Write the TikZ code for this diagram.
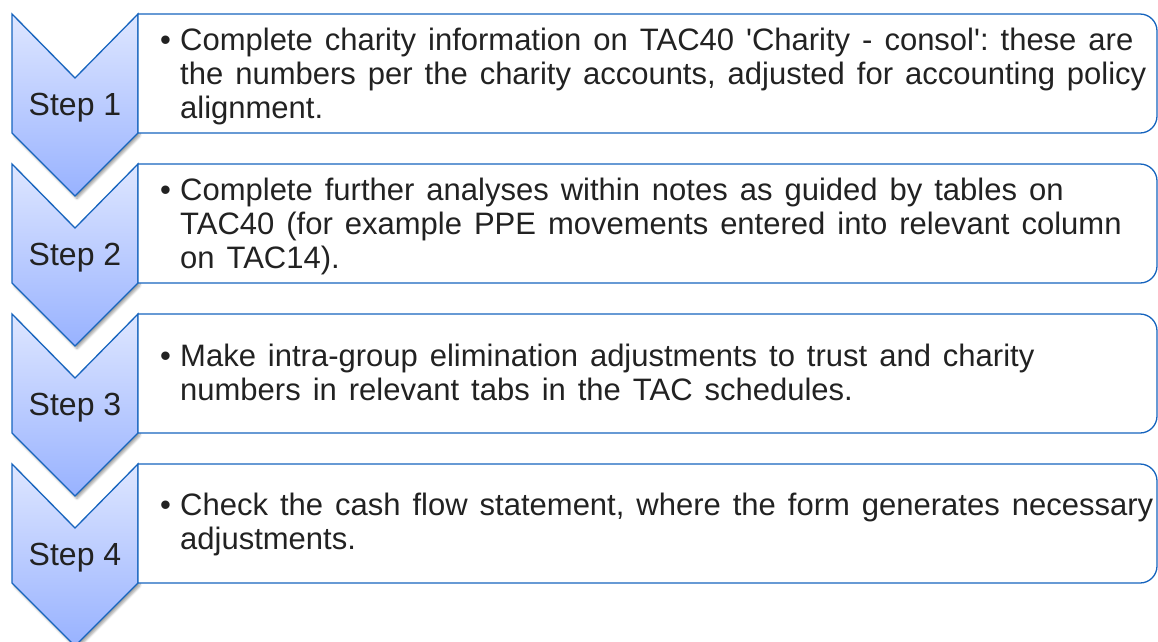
\documentclass[tikz,border=0pt]{standalone}
\usepackage{fontspec}
\setmainfont{Liberation Sans}
\usetikzlibrary{shadows.blur}
\definecolor{edge}{RGB}{22,100,190}
\definecolor{chtop}{RGB}{222,230,255}
\definecolor{chbot}{RGB}{152,178,255}
\definecolor{txt}{RGB}{34,34,34}
\tikzset{
  chev/.style={draw=edge, line width=1.3pt, line join=miter, top color=chtop, bottom color=chbot,
    blur shadow={shadow xshift=2pt, shadow yshift=-3pt, shadow blur steps=6, shadow blur extra rounding=1pt, shadow opacity=35}},
  tbox/.style={draw=edge, line width=1.3pt, fill=white},
  steplbl/.style={font=\fontsize{32}{36}\selectfont, text=txt, inner sep=0pt, anchor=base},
  bodytxt/.style={font=\fontsize{31}{34}\selectfont, text=txt, inner sep=0pt, anchor=base west}
}
\newcommand{\bitem}[1]{\begin{minipage}[t]{1100pt}\frenchspacing\hyphenpenalty=10000\spaceskip=12pt\xspaceskip=12pt\hangindent=20pt\hangafter=1\noindent\makebox[20pt][l]{\textbullet}#1\end{minipage}}
\begin{document}
\begin{tikzpicture}[x=1pt,y=-1pt]
\useasboundingbox (0,0) rectangle (1158,641);
\foreach \i/\T in {1/14,2/164,3/314,4/464}{
  \path[chev] (12,\T) -- (75,\T+64) -- (138,\T) -- (138,\T+119) -- (75,\T+182) -- (12,\T+119) -- cycle;
  \draw[tbox] (138,\T) -- (1140,\T) arc[start angle=90, end angle=0, x radius=17, y radius=-17] -- (1157,\T+102) arc[start angle=0, end angle=-90, x radius=17, y radius=-17] -- (138,\T+119) -- cycle;
  \node[steplbl] (s\i) at (75,\T+101) {Step \i};
}
\node[bodytxt] (t1) at (160,50) {\bitem{Complete charity information on TAC40 \textquotesingle Charity - consol\textquotesingle: these are\newline the numbers per the charity accounts, adjusted for accounting policy\newline alignment.}};
\node[bodytxt] (t2) at (160,200) {\bitem{Complete further analyses within notes as guided by tables on\newline TAC40 (for example PPE movements entered into relevant column\newline on TAC14).}};
\node[bodytxt] (t3) at (160,366) {\bitem{Make intra-group elimination adjustments to trust and charity\newline numbers in relevant tabs in the TAC schedules.}};
\node[bodytxt] (t4) at (160,515) {\bitem{Check the cash flow statement, where the form generates necessary\newline adjustments.}};
\end{tikzpicture}
\end{document}
